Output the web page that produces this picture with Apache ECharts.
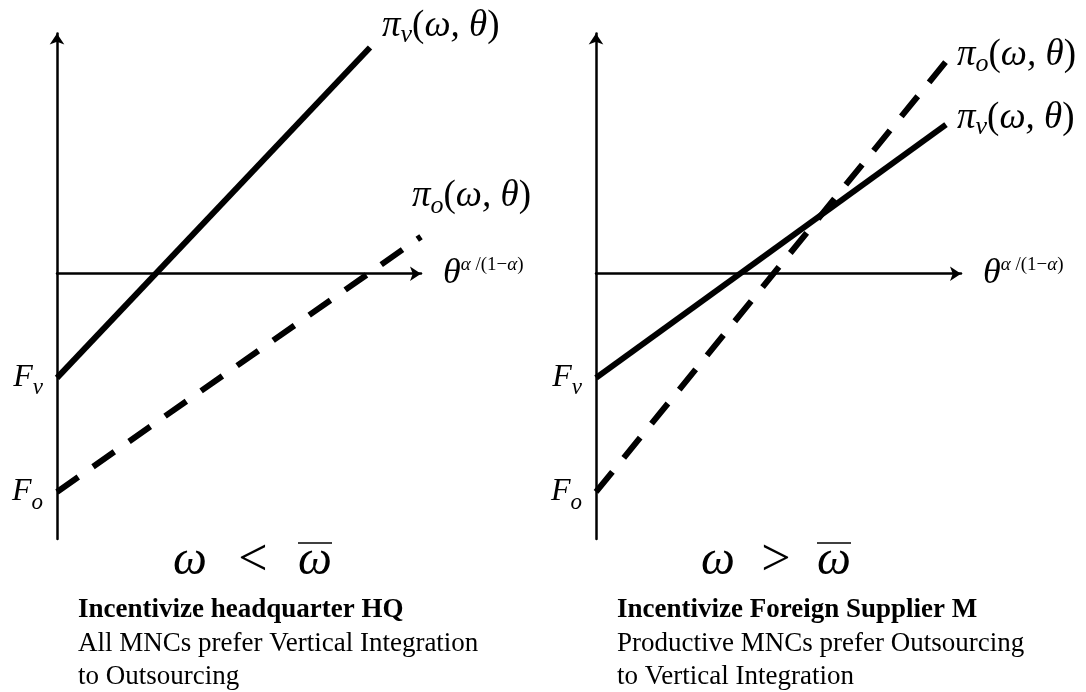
<!DOCTYPE html>
<html>
<head>
<meta charset="utf-8">
<script src="https://cdn.jsdelivr.net/npm/echarts@6/dist/echarts.min.js"></script>
<style>
  html, body { margin: 0; padding: 0; background: #fff; }
  #chart-container { width: 1086px; height: 692px; }
</style>
</head>
<body>
<div id="chart-container"></div>
<script>
// axis units: roughly 1 unit = 10px of the original figure
const xMax = [36.4, 36.5];
const yMin = -26.5;
const yMax = 24.0;

// intercepts on the vertical axis (F_v, F_o)
const fixedCosts = [-10.4, -21.8];
const fixedCostSubs = ['v', 'o'];

// left panel: omega < omega bar
const leftVertical = [[0, -10.4], [31.3, 22.6]];
const leftOutsourcing = [[0, -21.8], [36.4, 3.7]];
// right panel: omega > omega bar
const rightVertical = [[0, -10.4], [35.0, 14.9]];
const rightOutsourcing = [[0, -21.8], [35.0, 21.2]];

const relations = ['<', '>'];
const captionTitles = ['Incentivize headquarter HQ', 'Incentivize Foreign Supplier M'];
const captionLines = [
  ['All MNCs prefer Vertical Integration', 'to Outsourcing'],
  ['Productive MNCs prefer Outsourcing', 'to Vertical Integration'],
];

const MATH = '"Liberation Serif", "DejaVu Serif", serif';

const mathRich = {
  p: { fontFamily: MATH, fontStyle: 'italic', fontSize: 37, lineHeight: 44, color: '#000' },
  r: { fontFamily: MATH, fontSize: 37, lineHeight: 44, color: '#000' },
  s: { fontFamily: MATH, fontStyle: 'italic', fontSize: 26, lineHeight: 26, verticalAlign: 'bottom', color: '#000' },
  t: { fontFamily: MATH, fontStyle: 'italic', fontSize: 36, lineHeight: 36, color: '#000' },
  sa: { fontFamily: MATH, fontStyle: 'italic', fontSize: 19, lineHeight: 19, verticalAlign: 'top', color: '#000' },
  su: { fontFamily: MATH, fontSize: 19, lineHeight: 19, verticalAlign: 'top', color: '#000' },
};

function profitLabel(sub) {
  return '{p|π}{s|' + sub + '}{r|(}{p|ω, θ}{r|)}';
}

function buildSeries(idx, data, dashed, sub, offset) {
  return {
    type: 'line',
    xAxisIndex: idx,
    yAxisIndex: idx,
    data,
    symbol: 'none',
    silent: true,
    lineStyle: {
      color: '#000',
      width: 6,
      type: dashed ? [26, 18] : 'solid',
      cap: 'butt',
    },
    endLabel: {
      show: true,
      distance: 0,
      offset,
      formatter: profitLabel(sub),
      rich: mathRich,
    },
  };
}

function buildXAxis(idx) {
  return {
    type: 'value',
    gridIndex: idx,
    min: 0,
    max: xMax[idx],
    name: '{t|θ}{sa|α }{su|/(1−}{sa|α}{su|)}',
    nameLocation: 'end',
    nameGap: 22,
    nameTextStyle: { rich: mathRich },
    axisLine: {
      onZero: true,
      symbol: ['none', 'arrow'],
      symbolSize: [11, 11],
      lineStyle: { color: '#000', width: 2.5 },
    },
    axisTick: { show: false },
    axisLabel: { show: false },
    splitLine: { show: false },
  };
}

function buildYAxis(idx) {
  return {
    type: 'value',
    gridIndex: idx,
    min: yMin,
    max: yMax,
    axisLine: {
      onZero: true,
      symbol: ['none', 'arrow'],
      symbolSize: [11, 11],
      lineStyle: { color: '#000', width: 2.5 },
    },
    axisTick: { show: false },
    splitLine: { show: false },
    axisLabel: {
      show: true,
      customValues: fixedCosts,
      margin: 14,
      formatter: (v) => {
        const k = fixedCosts.indexOf(v);
        return '{F|F}{s|' + fixedCostSubs[k] + '}';
      },
      rich: {
        F: { fontFamily: MATH, fontStyle: 'italic', fontSize: 32, lineHeight: 44, color: '#000' },
        s: { fontFamily: MATH, fontStyle: 'italic', fontSize: 23, lineHeight: 22, verticalAlign: 'bottom', color: '#000' },
      },
    },
  };
}

function caption(idx, x, xs) {
  const items = [];
  const bodyText = '{b|' + captionTitles[idx] + '}\n' +
    captionLines[idx].map((l) => '{n|' + l + '}').join('\n');
  items.push({
    type: 'text',
    left: x,
    top: 597,
    style: {
      text: bodyText,
      rich: {
        b: { fontFamily: '"Liberation Serif", serif', fontWeight: 'bold', fontSize: 27, lineHeight: 33, fill: '#000' },
        n: { fontFamily: '"Liberation Serif", serif', fontSize: 27, lineHeight: 33, fill: '#000' },
      },
    },
  });
  // omega  <  omega bar
  const omegaFont = 'italic 48px "Liberation Serif", serif';
  items.push({ type: 'text', x: xs[0], y: 561, style: { text: 'ω', font: omegaFont, textAlign: 'center', textVerticalAlign: 'middle', fill: '#000' } });
  items.push({ type: 'text', x: xs[1], y: 561, style: { text: relations[idx], font: '52px "Liberation Serif", serif', textAlign: 'center', textVerticalAlign: 'middle', fill: '#000' } });
  items.push({ type: 'text', x: xs[2], y: 561, style: { text: 'ω', font: omegaFont, textAlign: 'center', textVerticalAlign: 'middle', fill: '#000' } });
  items.push({ type: 'line', shape: { x1: xs[2] - 17, y1: 543, x2: xs[2] + 17, y2: 543 }, style: { stroke: '#000', lineWidth: 1.5 } });
  return items;
}

const option = {
  animation: false,
  backgroundColor: '#fff',
  grid: [
    { left: 57, top: 33.5, width: 364, bottom: 153 },
    { left: 596, top: 33.5, width: 365, bottom: 153 },
  ],
  xAxis: [buildXAxis(0), buildXAxis(1)],
  yAxis: [buildYAxis(0), buildYAxis(1)],
  series: [
    buildSeries(0, leftVertical, false, 'v', [12, -21]),
    buildSeries(0, leftOutsourcing, true, 'o', [-9, -40]),
    buildSeries(1, rightVertical, false, 'v', [11, -6]),
    buildSeries(1, rightOutsourcing, true, 'o', [11, -6]),
  ],
  graphic: [
    ...caption(0, 78, [190, 253, 315]),
    ...caption(1, 617, [718, 776, 834]),
  ],
};

var myChart = echarts.init(document.getElementById('chart-container'));
myChart.setOption(option);
window.addEventListener('resize', myChart.resize);
</script>
</body>
</html>
